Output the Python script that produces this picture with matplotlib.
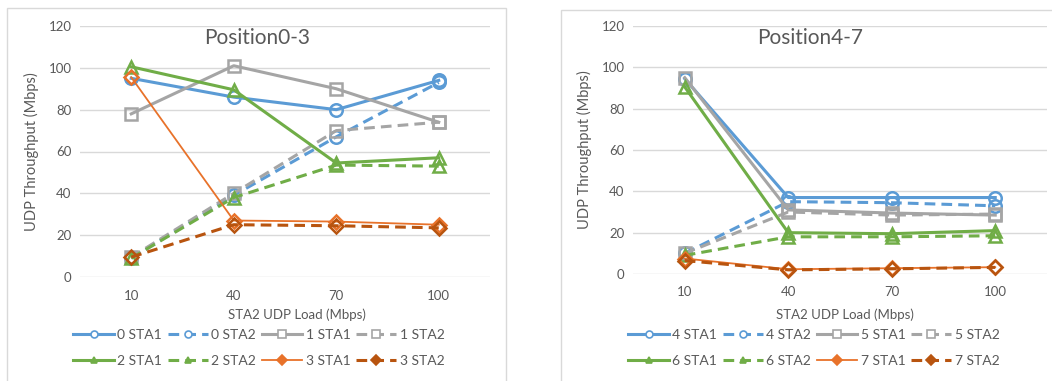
import matplotlib
matplotlib.use("Agg")
import matplotlib.pyplot as plt
from matplotlib.lines import Line2D
from matplotlib.patches import Rectangle

plt.rcParams['font.family'] = ['Lato', 'DejaVu Sans']

loads = ["10", "40", "70", "100"]

# Position 0-3
p0_sta1 = [95, 86, 80, 94]
p0_sta2 = [9, 39, 67, 93]
p1_sta1 = [78, 101, 90, 74]
p1_sta2 = [9.5, 40, 70, 74]
p2_sta1 = [100.5, 89.5, 54.5, 57]
p2_sta2 = [9, 38, 53.5, 53]
p3_sta1 = [95.5, 27, 26.5, 25]
p3_sta2 = [9.5, 25, 24.5, 23.5]

# Position 4-7
p4_sta1 = [94.5, 37, 37, 37]
p4_sta2 = [10, 35, 34.5, 33]
p5_sta1 = [95, 31, 29.5, 28.5]
p5_sta2 = [10, 30, 28.5, 29]
p6_sta1 = [90.5, 20, 19.5, 21]
p6_sta2 = [9, 18, 18, 18.5]
p7_sta1 = [7.5, 2.3, 2.8, 3.3]
p7_sta2 = [6.5, 2, 2.5, 3.2]

left_series = [("0 STA1", p0_sta1), ("0 STA2", p0_sta2), ("1 STA1", p1_sta1), ("1 STA2", p1_sta2),
               ("2 STA1", p2_sta1), ("2 STA2", p2_sta2), ("3 STA1", p3_sta1), ("3 STA2", p3_sta2)]
right_series = [("4 STA1", p4_sta1), ("4 STA2", p4_sta2), ("5 STA1", p5_sta1), ("5 STA2", p5_sta2),
                ("6 STA1", p6_sta1), ("6 STA2", p6_sta2), ("7 STA1", p7_sta1), ("7 STA2", p7_sta2)]

BLUE = '#5B9BD5'
GREY = '#A5A5A5'
GREEN = '#70AD47'
ORANGE = '#E8722A'
DORANGE = '#B8540F'
DASH = (0, (3.5, 2))

styles = [
    dict(color=BLUE, ls='-', marker='o', lw=2.2, leg_fill=False),
    dict(color=BLUE, ls=DASH, marker='o', lw=2.2, leg_fill=False),
    dict(color=GREY, ls='-', marker='s', lw=2.2, leg_fill=False),
    dict(color=GREY, ls=DASH, marker='s', lw=2.2, leg_fill=False),
    dict(color=GREEN, ls='-', marker='^', lw=2.2, leg_fill=True),
    dict(color=GREEN, ls=DASH, marker='^', lw=2.2, leg_fill=True),
    dict(color=ORANGE, ls='-', marker='D', lw=1.3, leg_fill=True),
    dict(color=DORANGE, ls=DASH, marker='D', lw=2.2, leg_fill=True),
]

W, H = 1052, 381
fig = plt.figure(figsize=(W / 100, H / 100), dpi=100)

TXT = '#595959'
GRID = '#D9D9D9'


def fx(px):
    return px / W


def fy(py):
    return 1 - py / H


def panel(series, title, ax_px, box_px, title_x, xlabel_x, leg_x0, leg_x1):
    x0, x1, ytop, ybot = ax_px
    bx0, by0, bx1 = box_px
    fig.patches.append(Rectangle((fx(bx0), fy(H + 5)), fx(bx1 - bx0), fy(by0) - fy(H + 5),
                                 transform=fig.transFigure, fill=False, edgecolor=GRID,
                                 lw=1.0, zorder=0))
    ax = fig.add_axes([fx(x0), fy(ybot), fx(x1 - x0), fy(ytop) - fy(ybot)])
    xs = list(range(len(loads)))
    handles = []
    for (name, vals), st in zip(series, styles):
        ms = 9 if st['marker'] in ('o', 's') else 8.5
        if st['marker'] == 'D':
            ms = 7
        ax.plot(xs, vals, color=st['color'], ls=st['ls'], lw=st['lw'], marker=st['marker'],
                ms=ms, mfc='none', mec=st['color'], mew=1.8, clip_on=False)
        lms = 5 if st['marker'] != 's' else 5.5
        handles.append(Line2D([], [], color=st['color'], ls=st['ls'], lw=st['lw'],
                              marker=st['marker'], ms=lms,
                              mfc=st['color'] if st['leg_fill'] else 'white',
                              mec=st['color'], mew=1.2, label=name))
    ax.set_xlim(-0.5, len(loads) - 0.5)
    ax.set_ylim(0, 120)
    ax.set_yticks(range(0, 121, 20))
    ax.set_xticks(xs)
    ax.set_xticklabels(loads)
    ax.yaxis.grid(True, color=GRID, lw=1.0)
    ax.set_axisbelow(True)
    for s in ax.spines.values():
        s.set_visible(False)
    ax.tick_params(length=0, labelsize=9.5, colors=TXT, pad=6)
    ax.tick_params(axis='x', pad=9)
    ax.set_ylabel("UDP Throughput (Mbps)", fontsize=10.5, color=TXT, labelpad=7)
    fig.text(fx(title_x), fy(38), title, ha='center', va='center', fontsize=15, color=TXT)
    fig.text(fx(xlabel_x), fy(315), "STA2 UDP Load (Mbps)", ha='center', va='center',
             fontsize=9.5, color=TXT)
    # row-wise order for a 4-column legend (matplotlib fills column by column)
    order = [0, 4, 1, 5, 2, 6, 3, 7]
    leg = fig.legend(handles=[handles[i] for i in order], ncol=4, loc='center',
                     bbox_to_anchor=(fx((leg_x0 + leg_x1) / 2), fy(348)),
                     frameon=False, fontsize=10, handlelength=2.9, handletextpad=0.25,
                     columnspacing=0.4, labelspacing=1.0, borderpad=0)
    for t in leg.get_texts():
        t.set_color(TXT)
    return ax


panel(left_series, "Position0-3", (80, 490, 26, 277), (7, 8, 506), 257, 297, 75, 443)
panel(right_series, "Position4-7", (633, 1047, 26, 274), (561, 10, 1060), 810, 845, 630, 998)

fig.savefig("out.png", dpi=100, facecolor='white')
